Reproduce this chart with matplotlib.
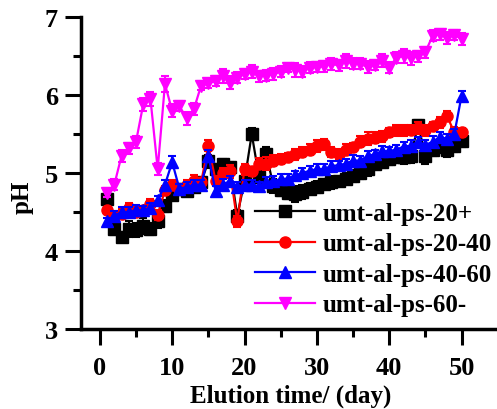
import matplotlib
matplotlib.use("Agg")
import matplotlib.pyplot as plt
import numpy as np

# Elution day
days = list(range(1, 51))

# pH readings per sample
ph_20plus = [4.67, 4.28, 4.18, 4.28, 4.27, 4.32, 4.28, 4.38, 4.58, 4.72,
             4.80, 4.77, 4.82, 4.88, 5.15, 5.05, 5.12, 5.08, 4.45, 4.90,
             5.50, 4.95, 5.25, 4.83, 4.78, 4.75, 4.73, 4.76, 4.80, 4.82,
             4.86, 4.88, 4.90, 4.93, 4.96, 5.00, 5.05, 5.12, 5.14, 5.18,
             5.20, 5.20, 5.22, 5.62, 5.22, 5.30, 5.33, 5.30, 5.35, 5.41]
ph_20_40 = [4.52, 4.45, 4.48, 4.55, 4.50, 4.52, 4.60, 4.46, 4.78, 4.85,
            4.80, 4.85, 4.90, 4.88, 5.35, 4.90, 5.00, 5.02, 4.38, 5.05,
            5.02, 5.12, 5.12, 5.16, 5.18, 5.20, 5.24, 5.27, 5.30, 5.35,
            5.37, 5.27, 5.24, 5.30, 5.33, 5.40, 5.44, 5.45, 5.47, 5.52,
            5.55, 5.55, 5.55, 5.58, 5.55, 5.60, 5.65, 5.73, 5.52, 5.52]
ph_40_60 = [4.38, 4.45, 4.50, 4.50, 4.52, 4.52, 4.55, 4.65, 4.85, 5.14,
            4.80, 4.82, 4.85, 4.85, 5.22, 4.77, 4.85, 4.90, 4.82, 4.85,
            4.85, 4.83, 4.88, 4.90, 4.92, 4.93, 4.97, 5.00, 5.03, 5.05,
            5.05, 5.09, 5.10, 5.12, 5.16, 5.16, 5.22, 5.24, 5.28, 5.28,
            5.30, 5.34, 5.35, 5.40, 5.36, 5.40, 5.46, 5.44, 5.50, 5.99]
ph_60minus = [4.75, 4.85, 5.22, 5.32, 5.40, 5.88, 5.95, 5.05, 6.14, 5.80,
              5.86, 5.70, 5.82, 6.12, 6.15, 6.18, 6.24, 6.16, 6.22, 6.27,
              6.30, 6.24, 6.25, 6.27, 6.30, 6.35, 6.32, 6.30, 6.35, 6.36,
              6.37, 6.40, 6.38, 6.44, 6.40, 6.40, 6.36, 6.38, 6.44, 6.35,
              6.48, 6.50, 6.47, 6.50, 6.55, 6.76, 6.78, 6.73, 6.77, 6.72]

# standard deviations
err_20plus = [0.06, 0.08, 0.06, 0.10, 0.09, 0.10, 0.08, 0.09, 0.08, 0.07,
              0.06, 0.07, 0.06, 0.06, 0.08, 0.07, 0.06, 0.06, 0.08, 0.06,
              0.08, 0.07, 0.08, 0.09, 0.07, 0.08, 0.10, 0.09, 0.07, 0.08,
              0.07, 0.08, 0.06, 0.07, 0.08, 0.07, 0.09, 0.06, 0.07, 0.08,
              0.07, 0.08, 0.09, 0.06, 0.10, 0.08, 0.07, 0.09, 0.08, 0.07]
err_20_40 = [0.05, 0.06, 0.06, 0.07, 0.06, 0.06, 0.07, 0.06, 0.06, 0.06,
             0.06, 0.06, 0.07, 0.06, 0.07, 0.06, 0.07, 0.08, 0.07, 0.07,
             0.06, 0.07, 0.08, 0.07, 0.07, 0.06, 0.07, 0.06, 0.07, 0.08,
             0.07, 0.06, 0.07, 0.07, 0.06, 0.07, 0.08, 0.07, 0.07, 0.06,
             0.07, 0.07, 0.06, 0.08, 0.07, 0.06, 0.07, 0.06, 0.07, 0.06]
err_40_60 = [0.05, 0.06, 0.06, 0.06, 0.07, 0.06, 0.06, 0.06, 0.06, 0.08,
             0.06, 0.06, 0.06, 0.06, 0.07, 0.06, 0.07, 0.06, 0.06, 0.06,
             0.06, 0.06, 0.07, 0.06, 0.07, 0.06, 0.06, 0.07, 0.06, 0.06,
             0.07, 0.06, 0.06, 0.06, 0.07, 0.06, 0.06, 0.06, 0.07, 0.06,
             0.06, 0.06, 0.07, 0.06, 0.06, 0.07, 0.06, 0.06, 0.07, 0.06]
err_60minus = [0.06, 0.07, 0.08, 0.07, 0.08, 0.08, 0.09, 0.08, 0.10, 0.08,
               0.07, 0.08, 0.08, 0.06, 0.06, 0.07, 0.09, 0.08, 0.07, 0.06,
               0.08, 0.07, 0.07, 0.08, 0.07, 0.06, 0.09, 0.07, 0.07, 0.06,
               0.07, 0.08, 0.07, 0.09, 0.07, 0.07, 0.08, 0.06, 0.08, 0.07,
               0.07, 0.09, 0.08, 0.07, 0.07, 0.07, 0.07, 0.08, 0.07, 0.08]

labels = ["umt-al-ps-20+", "umt-al-ps-20-40", "umt-al-ps-40-60", "umt-al-ps-60-"]

plt.rcParams['font.family'] = ['Liberation Serif', 'DejaVu Serif']
plt.rcParams['font.weight'] = 'bold'
plt.rcParams['font.size'] = 18

fig = plt.figure(figsize=(4.97, 4.10), dpi=100)
ax = fig.add_axes([0.163, 0.195, 0.837, 0.761])

series = [(ph_20plus, err_20plus, 'black', 's'),
          (ph_20_40, err_20_40, '#FF0000', 'o'),
          (ph_40_60, err_40_60, '#0000FF', '^'),
          (ph_60minus, err_60minus, '#FF00FF', 'v')]

handles = []
for (vals, errs, col, mk), lab in zip(series, labels):
    ax.errorbar(days, vals, yerr=errs, fmt='none', ecolor=col,
                elinewidth=1.5, capsize=3, capthick=1.5)
    h, = ax.plot(days, vals, color=col, marker=mk, markersize=8,
                 linewidth=1.6, label=lab)
    handles.append(h)

ax.set_xlim(-2.6, 54.9)
ax.set_ylim(3, 7)
ax.set_xticks([0, 10, 20, 30, 40, 50])
ax.set_xticks([5, 15, 25, 35, 45], minor=True)
ax.set_yticks([3, 4, 5, 6, 7])
ax.set_yticks([3.5, 4.5, 5.5, 6.5], minor=True)

for s in ['top', 'right']:
    ax.spines[s].set_visible(False)
for s in ['left', 'bottom']:
    ax.spines[s].set_linewidth(2.5)

ax.tick_params(which='major', direction='out', length=11.5, width=2.2,
               pad=5, labelsize=19)
ax.tick_params(which='minor', direction='out', length=6, width=2.2)
ax.tick_params(axis='x', pad=8)

ax.set_xlabel("Elution time/ (day)", fontweight='bold', fontsize=18)
ax.set_ylabel("pH", fontweight='bold', fontsize=18)
ax.xaxis.set_label_coords(0.505, -0.175)
ax.yaxis.set_label_coords(-0.115, 0.426)

fig.legend(handles=handles, loc='upper left', bbox_to_anchor=(0.513, 0.505),
           frameon=False, borderpad=0, borderaxespad=0, handlelength=2.4,
           handletextpad=0.3, labelspacing=0.3, fontsize=18)

fig.savefig("out.png", dpi=100)
